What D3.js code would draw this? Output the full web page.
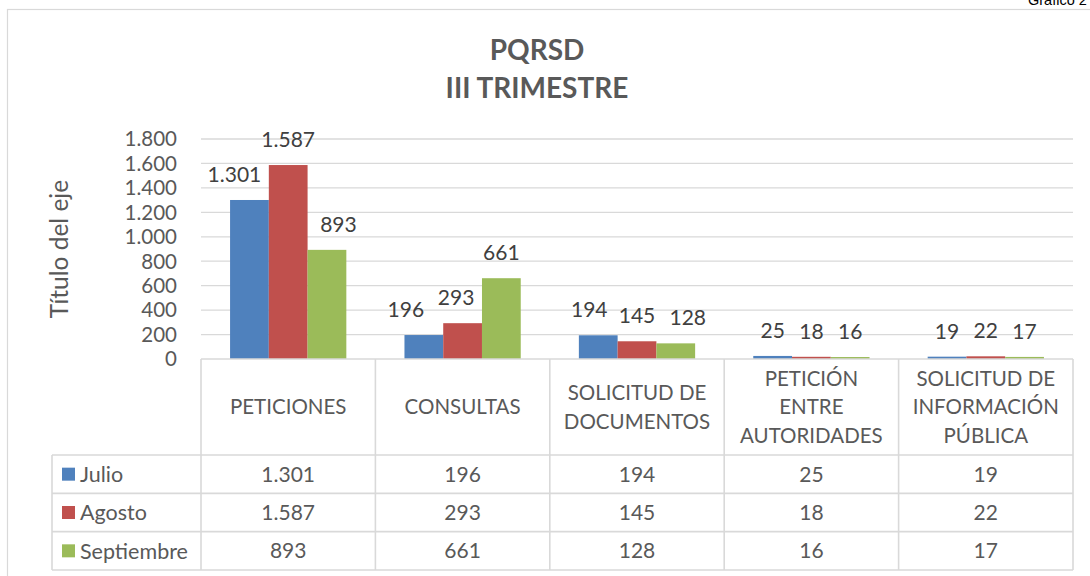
<!DOCTYPE html>
<html>
<head>
<meta charset="utf-8">
<script src="https://cdn.jsdelivr.net/npm/d3@7"></script>
<style>
  body { margin: 0; background: #fff; }
  svg { display: block; font-family: Lato, "Open Sans", sans-serif; }
</style>
</head>
<body>
<svg id="graf" width="1090" height="576"></svg>
<script>
// datos del gráfico
const categorias = ["PETICIONES", "CONSULTAS", "SOLICITUD DE DOCUMENTOS", "PETICIÓN ENTRE AUTORIDADES", "SOLICITUD DE INFORMACIÓN PÚBLICA"];
const etiquetasCat = [["PETICIONES"], ["CONSULTAS"], ["SOLICITUD DE", "DOCUMENTOS"], ["PETICIÓN", "ENTRE", "AUTORIDADES"], ["SOLICITUD DE", "INFORMACIÓN", "PÚBLICA"]];
const meses = ["Julio", "Agosto", "Septiembre"];
const julio = [1301, 196, 194, 25, 19];
const agosto = [1587, 293, 145, 18, 22];
const septiembre = [893, 661, 128, 16, 17];
const ticksY = [0, 200, 400, 600, 800, 1000, 1200, 1400, 1600, 1800];
const colores = ["#4F81BD", "#C0504D", "#9BBB59"];
// corrimiento horizontal de etiquetas (Excel las separa cuando se tocan)
const corrEtiq = [[-15, -18, -9, 0, 0], [0, -6.5, 0, 0, 0], [11.5, 0, 12, 0, 0]];

const valores = [julio, agosto, septiembre];
const fmt = d3.formatLocale({decimal: ",", thousands: ".", grouping: [3], currency: ["$", ""]}).format(",");

const svg = d3.select("#graf");
const gris = "#D9D9D9";
const texto = "#595959";

// marco del gráfico
svg.append("rect").attr("x", 7.5).attr("y", 9.5).attr("width", 1100).attr("height", 600)
  .attr("fill", "none").attr("stroke", gris).attr("stroke-width", 1.2);

svg.append("text").attr("x", 1028).attr("y", 4.5)
  .attr("font-family", "Liberation Sans, Arial").attr("font-size", 14.5).attr("fill", "#000")
  .text("Gráfico 2");

// título
svg.append("text").attr("x", 537).attr("y", 60).attr("text-anchor", "middle")
  .attr("font-weight", "bold").attr("font-size", 28).attr("fill", texto).text("PQRSD");
svg.append("text").attr("x", 537).attr("y", 98).attr("text-anchor", "middle")
  .attr("font-weight", "bold").attr("font-size", 28).attr("fill", texto).text("III TRIMESTRE");

const x = d3.scaleBand().domain(categorias).range([201, 1073]);
const xm = d3.scaleBand().domain(meses).range([0, x.bandwidth()]).paddingInner(0).paddingOuter(0.75);
const y = d3.scaleLinear().domain([0, 1800]).range([359, 139]);
const fila = d3.scaleBand().domain(meses).range([455, 570]);

// líneas de división
svg.append("g").selectAll("line")
  .data(ticksY.filter(d => d > 0))
  .enter().append("line")
  .attr("x1", 201).attr("x2", 1073)
  .attr("y1", d => y(d)).attr("y2", d => y(d))
  .attr("stroke", gris).attr("stroke-width", 1.3);

// eje Y
svg.append("g").selectAll("text")
  .data(ticksY)
  .enter().append("text")
  .attr("x", 177).attr("y", d => y(d)).attr("dy", "0.36em")
  .attr("text-anchor", "end").attr("font-size", 20.5).attr("fill", texto)
  .text(d => fmt(d));

svg.append("text")
  .attr("transform", `translate(68,${(y(0) + y(1800)) / 2}) rotate(-90)`)
  .attr("text-anchor", "middle").attr("font-size", 24.5).attr("fill", texto)
  .text("Título del eje");

// barras
meses.forEach((m, i) => {
  svg.append("g").selectAll("rect")
    .data(valores[i])
    .enter().append("rect")
    .attr("x", (d, j) => x(categorias[j]) + xm(m))
    .attr("y", d => y(d))
    .attr("width", xm.bandwidth())
    .attr("height", d => y(0) - y(d))
    .attr("fill", colores[i]);

  svg.append("g").selectAll("text")
    .data(valores[i])
    .enter().append("text")
    .attr("x", (d, j) => x(categorias[j]) + xm(m) + xm.bandwidth() / 2 + corrEtiq[i][j])
    .attr("y", d => y(d) - 18)
    .attr("text-anchor", "middle").attr("font-size", 21).attr("fill", "#404040")
    .text(d => fmt(d));
});

// tabla de datos
const tabla = svg.append("g").attr("stroke", gris).attr("stroke-width", 1.6);
tabla.append("line").attr("x1", 201).attr("x2", 1073).attr("y1", y(0)).attr("y2", y(0));
fila.domain().forEach(m => {
  tabla.append("line").attr("x1", 52).attr("x2", 1073).attr("y1", fila(m)).attr("y2", fila(m));
});
tabla.append("line").attr("x1", 52).attr("x2", 1073).attr("y1", fila.range()[1]).attr("y2", fila.range()[1]);
tabla.append("line").attr("x1", 52).attr("x2", 52).attr("y1", fila.range()[0]).attr("y2", fila.range()[1]);
categorias.forEach(c => {
  tabla.append("line").attr("x1", x(c)).attr("x2", x(c)).attr("y1", y(0)).attr("y2", fila.range()[1]);
});
tabla.append("line").attr("x1", 1073).attr("x2", 1073).attr("y1", y(0)).attr("y2", fila.range()[1]);

// encabezados de categoría
const medioEnc = (y(0) + fila.range()[0]) / 2;
categorias.forEach((c, j) => {
  const lineas = etiquetasCat[j];
  const t = svg.append("text").attr("text-anchor", "middle").attr("font-size", 20.5).attr("fill", texto);
  lineas.forEach((l, k) => {
    t.append("tspan")
      .attr("x", x(c) + x.bandwidth() / 2)
      .attr("y", medioEnc + (k - (lineas.length - 1) / 2) * 28.5)
      .attr("dy", "0.36em")
      .text(l);
  });
});

// filas: leyenda y valores
meses.forEach((m, i) => {
  const cy = fila(m) + fila.bandwidth() / 2;
  svg.append("rect").attr("x", 62).attr("y", cy - 6.5).attr("width", 13).attr("height", 13).attr("fill", colores[i]);
  svg.append("text").attr("x", 80).attr("y", cy).attr("dy", "0.36em")
    .attr("font-size", 21.5).attr("fill", texto).text(m);
  svg.append("g").selectAll("text")
    .data(valores[i])
    .enter().append("text")
    .attr("x", (d, j) => x(categorias[j]) + x.bandwidth() / 2)
    .attr("y", cy).attr("dy", "0.36em")
    .attr("text-anchor", "middle").attr("font-size", 21).attr("fill", texto)
    .text(d => fmt(d));
});
</script>
</body>
</html>
